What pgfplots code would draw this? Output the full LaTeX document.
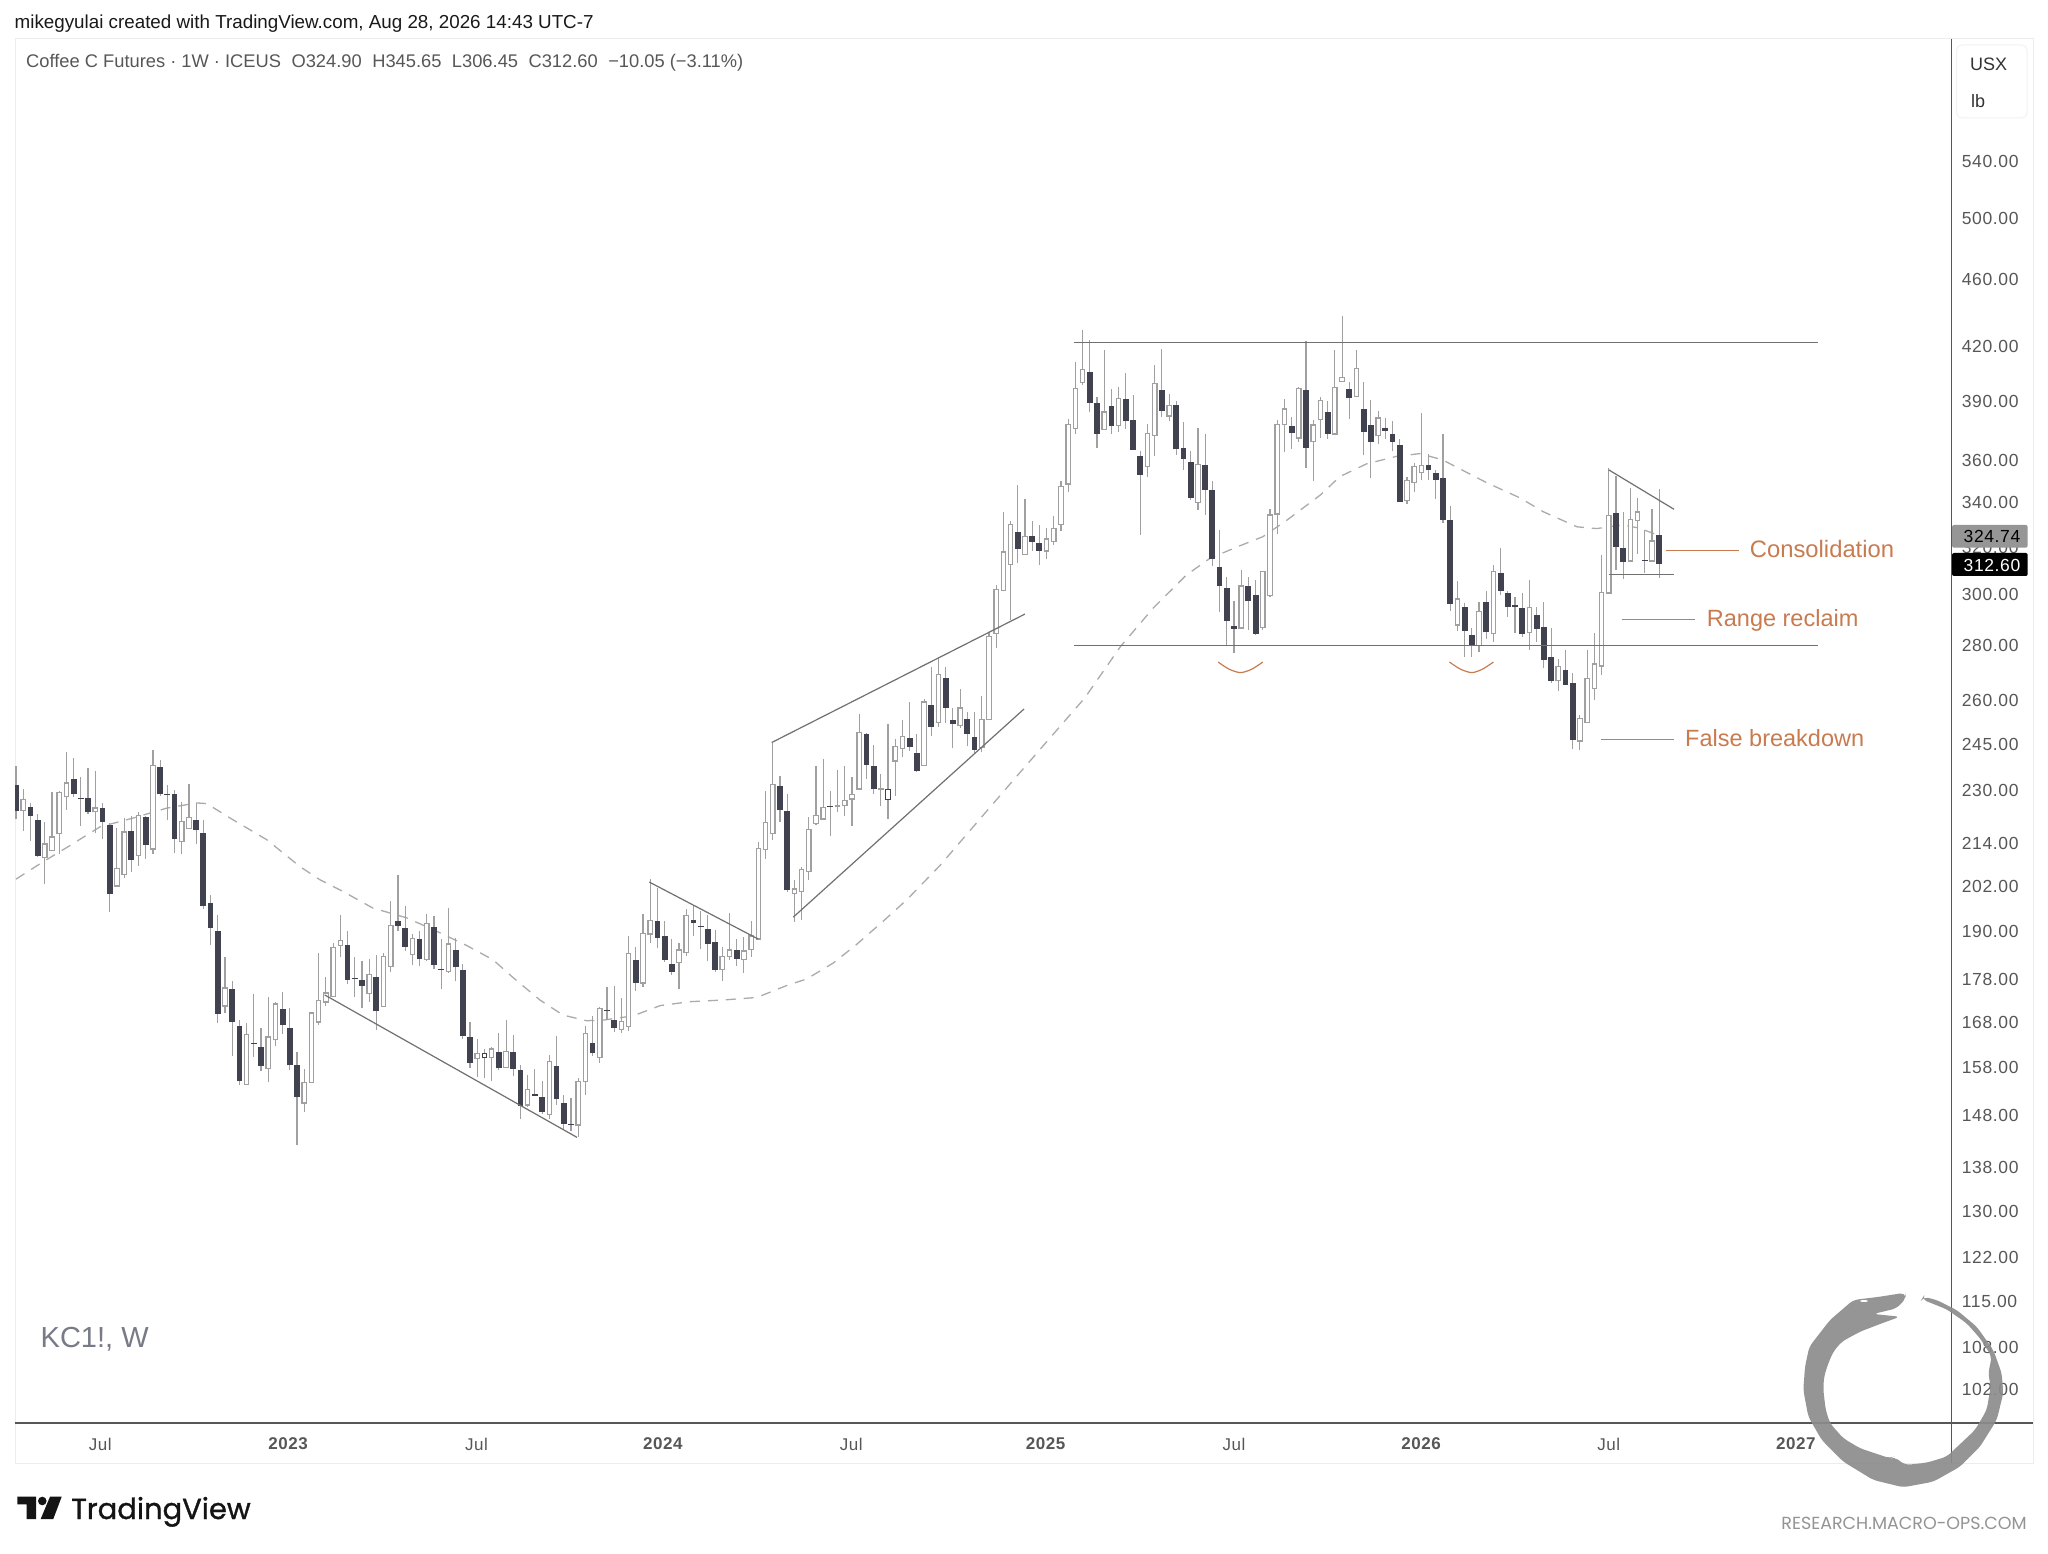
\documentclass[border=0pt]{standalone}
\usepackage{pgfplots}
\usepackage{pgfplotstable}
\usepackage{fontspec}
\pgfplotsset{compat=1.18}
\setmainfont{Liberation Sans}
\newfontfamily\pop{Poppins}
\newfontfamily\popb[FakeBold=1]{Poppins}
\newfontfamily\tkf[LetterSpace=3.5]{Liberation Sans}
\definecolor{wick}{HTML}{A0A0A0}
\definecolor{dk}{HTML}{40424F}
\definecolor{trend}{HTML}{707070}
\definecolor{ma}{HTML}{ABABAB}
\definecolor{orng}{HTML}{C97B50}
\definecolor{tick}{HTML}{575757}
\definecolor{wm}{HTML}{787B86}
\pgfplotstableread{
x o h l c
0 231.6 237.6 221.0 223.5
2 224.8 225.9 214.4 221.8
3 220.8 222.5 210.0 210.2
8 233.3 240.0 227.7 228.6
9 227.3 234.0 219.0 227.0
10 227.4 236.8 222.4 223.0
12 224.4 225.9 215.1 220.1
13 219.1 219.8 194.8 199.6
16 217.4 221.8 205.7 209.2
18 221.6 221.8 209.4 213.3
20 237.1 239.5 228.1 228.6
21 228.6 231.5 220.6 228.4
22 228.7 230.0 211.2 215.0
25 220.7 225.9 213.8 217.8
26 216.9 220.6 195.7 196.4
27 197.3 199.5 186.2 190.7
28 190.0 194.1 167.7 169.7
30 175.5 177.5 160.3 167.9
31 166.9 168.3 154.0 154.9
33 163.1 174.3 160.1 162.9
34 162.2 166.5 157.0 158.0
37 170.9 174.8 165.1 167.1
38 166.4 171.0 157.2 158.2
39 158.3 161.2 142.0 151.5
46 186.3 189.8 176.7 177.7
47 178.2 183.3 173.7 178.0
48 177.6 182.2 171.0 176.3
50 178.4 183.8 166.0 170.3
53 192.5 204.8 190.0 191.2
54 190.6 196.4 184.8 185.8
56 187.9 189.8 181.0 182.7
58 191.0 193.7 180.3 181.4
59 180.3 187.8 175.5 180.1
61 185.1 188.0 177.3 180.7
62 180.1 181.6 164.1 164.7
63 164.4 167.9 157.6 158.8
67 161.1 165.4 157.3 157.6
69 161.1 164.9 156.0 157.5
70 157.3 158.3 147.1 149.7
72 152.3 157.4 151.7 151.8
73 151.6 154.9 148.1 148.5
75 158.1 164.6 150.0 151.1
76 150.3 152.0 145.2 146.1
77 146.1 151.3 144.7 145.9
80 163.2 169.1 160.3 160.8
82 170.5 176.1 168.3 170.3
83 168.3 176.3 165.6 166.5
86 182.6 185.7 175.1 176.9
89 192.6 201.4 185.6 188.2
90 188.5 192.5 182.1 182.6
91 181.6 187.9 178.9 179.7
94 192.7 196.8 188.6 191.9
95 191.3 195.1 185.4 190.8
96 190.4 194.0 182.2 186.5
97 187.0 190.2 179.6 180.1
100 185.0 187.8 181.1 182.8
106 231.2 234.4 220.2 223.6
107 223.3 228.7 200.2 200.6
113 225.0 229.5 216.0 224.5
118 248.1 248.3 233.4 237.9
119 237.6 244.3 228.5 230.1
124 246.7 259.0 242.5 243.8
125 241.8 248.2 235.5 235.8
127 257.9 271.6 247.5 250.4
129 267.7 271.6 251.8 257.1
130 252.8 256.8 243.3 251.6
132 253.2 255.7 243.9 248.2
133 247.0 255.6 241.4 242.8
139 326.4 347.8 312.7 318.8
141 324.6 331.2 318.0 322.0
142 321.6 329.5 312.0 318.1
149 405.6 423.4 383.8 388.8
150 388.9 391.9 365.9 372.9
152 387.1 396.2 372.9 376.6
154 391.0 404.9 375.3 379.1
155 379.6 393.1 364.8 364.8
156 361.9 364.0 325.0 352.7
159 395.6 418.0 381.4 384.8
161 387.6 389.6 362.4 365.0
162 365.8 378.9 355.0 360.2
163 358.7 364.4 340.8 341.6
165 357.2 372.5 334.0 345.5
166 345.3 349.4 311.7 314.5
167 311.2 327.2 292.9 303.1
168 302.3 306.8 279.5 289.2
169 287.3 297.2 277.0 286.1
171 303.1 306.8 285.7 297.1
172 299.5 305.7 283.6 284.0
177 376.8 381.4 365.3 373.1
179 395.8 423.0 356.0 365.8
182 384.1 389.6 370.3 372.9
185 396.3 400.0 380.3 391.2
187 385.6 400.0 362.2 373.5
188 377.3 390.1 351.3 368.9
190 375.7 380.9 370.3 374.4
191 372.9 379.5 364.4 368.9
192 367.3 370.1 340.0 340.0
196 357.2 362.9 350.2 354.7
197 353.4 355.0 341.3 350.2
198 351.1 372.5 330.5 331.7
199 331.6 337.8 293.2 296.0
201 294.6 296.4 275.5 285.3
202 283.7 286.4 275.2 280.0
204 296.6 301.2 282.2 284.7
206 308.6 319.1 299.5 301.3
207 300.3 301.2 290.9 294.7
208 295.4 298.6 284.3 294.6
209 294.3 300.3 283.0 283.9
211 291.7 294.6 281.2 286.0
212 286.9 296.6 271.2 274.4
213 275.3 286.4 265.8 266.6
215 270.5 278.0 265.2 265.2
216 265.7 269.4 243.0 246.2
222 335.0 352.0 309.9 319.5
223 319.4 335.1 306.2 313.3
226 314.1 327.2 308.8 313.7
228 324.90 345.65 306.45 312.60
}\dn
\pgfplotstableread{
x o h l c
1 223.6 230.3 217.5 226.8
4 209.8 220.2 202.3 213.6
5 211.8 229.3 211.6 215.6
6 216.7 229.5 210.8 229.0
7 228.0 241.9 223.8 232.0
11 223.3 236.0 216.8 224.3
14 201.9 218.4 201.9 206.5
15 205.1 221.3 204.1 217.1
17 210.4 223.2 207.5 222.0
19 212.3 242.8 210.8 237.7
23 214.4 226.2 210.8 220.1
24 218.2 231.8 218.2 221.3
29 171.6 183.4 170.0 175.7
32 154.2 167.7 154.2 165.0
35 157.6 173.5 154.6 164.4
36 163.9 172.5 162.5 171.9
40 150.4 157.4 148.6 154.6
41 154.7 170.0 154.7 169.8
42 167.9 184.3 167.1 172.7
43 172.5 178.5 171.4 174.5
44 173.8 186.8 173.8 185.6
45 186.3 194.1 183.4 187.4
49 174.5 182.8 172.5 179.0
51 171.5 184.4 171.5 183.4
52 181.1 197.9 179.7 191.2
55 184.0 189.1 181.2 187.8
57 182.8 194.3 182.2 191.8
60 179.8 195.9 179.4 186.5
64 159.8 163.9 155.8 160.7
65 160.0 161.7 155.5 160.7
66 160.0 162.2 154.9 161.7
68 157.8 168.3 157.8 161.2
71 150.0 156.2 149.6 153.0
74 148.0 160.5 147.2 159.0
78 146.0 155.5 143.6 154.7
79 154.8 166.8 152.0 165.1
81 160.0 171.2 158.7 170.8
84 166.2 173.3 165.3 167.9
85 166.9 188.5 165.8 184.1
87 177.0 194.4 176.1 189.2
88 189.2 203.7 186.9 192.5
92 182.0 186.9 175.5 185.0
93 184.4 195.6 183.6 193.8
98 180.3 185.7 177.5 183.3
99 183.5 194.7 182.6 185.0
101 182.8 188.3 179.4 184.7
102 185.2 192.5 183.4 188.5
103 187.9 214.1 187.9 212.3
104 212.2 229.7 209.4 220.0
105 216.8 245.2 214.7 231.5
108 199.9 203.5 192.2 200.9
109 200.3 207.0 192.8 206.3
110 205.8 221.6 203.5 217.9
111 219.7 237.6 219.2 222.1
112 221.1 239.7 220.9 224.5
114 224.8 236.1 223.0 225.0
115 225.2 237.4 222.0 226.5
116 227.2 234.0 219.0 228.5
117 230.3 254.9 229.8 248.4
120 230.2 235.0 225.1 230.3
121 227.0 251.5 221.0 230.0
122 239.2 246.3 228.1 243.7
123 243.3 252.9 240.5 247.0
126 237.8 260.0 237.8 259.0
128 252.1 274.9 250.4 268.7
131 250.9 263.6 250.0 256.9
134 243.7 261.2 241.9 252.9
135 253.1 285.0 253.1 282.9
136 284.4 303.6 278.7 301.6
137 301.6 335.1 301.6 317.4
138 312.4 331.0 289.6 329.6
140 316.5 341.1 316.5 324.3
143 318.1 328.0 314.4 323.1
144 322.3 333.5 320.6 327.6
145 329.9 349.4 326.8 346.9
146 348.4 380.3 344.7 377.3
147 375.7 411.0 372.9 396.2
148 399.8 429.2 398.5 406.5
151 375.3 417.7 375.3 383.8
153 377.3 397.2 373.5 390.9
157 356.8 377.8 351.8 372.7
158 372.2 409.5 361.9 398.9
160 382.1 393.7 379.1 387.4
164 339.8 375.7 336.2 357.4
170 286.5 309.9 286.5 303.1
173 286.8 309.6 285.7 309.0
174 299.5 336.5 298.9 333.8
175 334.5 380.0 325.4 377.6
176 377.8 391.0 363.5 385.4
178 370.8 397.5 368.6 396.2
180 369.0 379.6 349.4 377.1
181 380.3 391.7 370.8 389.8
183 372.9 417.7 372.9 396.7
184 400.5 437.5 400.0 402.1
186 392.4 417.4 392.4 407.0
189 372.0 384.7 367.8 380.7
193 340.5 351.8 338.9 349.6
194 349.1 358.5 344.7 356.6
195 354.0 383.6 350.2 357.0
200 287.7 305.3 285.3 297.8
203 279.9 296.8 277.4 292.7
205 284.3 311.9 281.2 309.2
210 284.7 305.7 278.0 294.4
214 266.7 274.6 262.8 271.8
217 245.8 254.5 242.6 253.1
218 252.0 278.0 252.0 267.4
219 263.9 284.4 259.8 272.7
220 272.1 316.3 268.6 300.6
221 300.5 355.8 300.5 333.6
224 313.8 346.2 313.8 331.6
225 331.6 341.6 316.6 335.1
227 313.8 336.7 313.8 322.2
}\up
\pgfplotstableread{
x o h l c
65 160.0 161.7 155.5 160.7
121 227.0 251.5 221.0 230.0
}\upd
\pgfplotsset{cbar/.style 2 args={draw=none,mark=none,forget plot,error bars/.cd,y dir=plus,y explicit,error mark=none,error bar style={solid,draw=#1,line width=#2}}}
\begin{document}
\begin{tikzpicture}[x=1pt,y=1pt]
\path[use as bounding box,fill=white] (0,0) rectangle (2048,1553);
\draw[color=black!7,line width=1pt] (15,1514) rectangle (2033,89);
\begin{axis}[
  at={(15pt,130pt)},anchor=south west,scale only axis,
  width=1936.7pt,height=1383pt,
  xmin=-0.139,xmax=268.59,ymin=97.4,ymax=636.1,ymode=log,
  axis line style={draw=none},major tick length=0pt,minor tick length=0pt,
  xtick={11.7,37.8,63.9,89.8,115.9,142.9,169,195,221,247},
  xticklabels={Jul,\textbf{2023},Jul,\textbf{2024},Jul,\textbf{2025},Jul,\textbf{2026},Jul,\textbf{2027}},
  xticklabel style={font=\fontsize{17}{18}\selectfont\tkf,text=tick,anchor=center,yshift=-21pt,inner sep=0pt},
  ytick={540,500,460,420,390,360,340,320,300,280,260,245,230,214,202,190,178,168,158,148,138,130,122,115,108,102},
  yticklabels={540.00,500.00,460.00,420.00,390.00,360.00,340.00,320.00,300.00,280.00,260.00,245.00,230.00,214.00,202.00,190.00,178.00,168.00,158.00,148.00,138.00,130.00,122.00,115.00,108.00,102.00},
  log ticks with fixed point,
  yticklabel pos=right,
  yticklabel style={font=\fontsize{17.5}{18}\selectfont\tkf,text=tick,anchor=west,inner sep=0pt,xshift=10pt,yshift=-1pt},
  clip=true,
]
% moving average
\addplot[ma,line width=1.3pt,dash pattern=on 10pt off 8pt,forget plot] coordinates {
(0,203.7)(3.79,208.6)(7.49,213.2)(11.66,218.7)(16.23,221.3)(20.9,224.3)(25.07,225.9)(26.46,225.7)(30.1,220.8)(34.8,214.9)(39.4,207.2)(42.2,203.5)(45.4,200.3)(49.5,195.9)(54.2,193.3)(58.4,189.8)(62.5,186.2)(66.2,182.6)(69.0,178.2)(72.7,172.9)(75.9,169.4)(79.2,168.1)(81.7,168.3)(83.8,168.8)(85.6,169.2)(89.4,171.6)(93.5,172.5)(98.1,172.9)(102.8,173.5)(106.9,176.3)(109.7,177.9)(113.4,181.8)(116.6,186.4)(120.3,192.4)(123.6,198.1)(128.2,207.5)(138.2,232.5)(148.3,260.5)(153.2,279.1)(157.8,294.3)(162.4,307.8)(165.7,314.9)(169.8,320.2)(173.0,324.2)(176.4,331.7)(181,343.1)(183.7,351.8)(187.4,357.9)(191.6,361.6)(194.8,362.9)(197.9,359.9)(204.1,348.8)(208.7,341.7)(211.9,335.4)(216.6,328.6)(219.3,327.8)(222.9,329.4)(225.1,328.1)(228,324.74)};
% wicks
\addplot[cbar={wick}{1.15pt}] table[x=x,y=l,y error plus expr=\thisrow{h}-\thisrow{l}] {\dn};
\addplot[cbar={wick}{1.15pt}] table[x=x,y=l,y error plus expr=\thisrow{h}-\thisrow{l}] {\up};
% down bodies
\addplot[cbar={dk}{5.8pt}] table[x=x,y=c,y error plus expr=\thisrow{o}-\thisrow{c}] {\dn};
% up bodies: outline, then white inside
\addplot[cbar={wick}{5.6pt}] table[x=x,y expr=\thisrow{o}/1.0012,y error plus expr=\thisrow{c}*1.0012-\thisrow{o}/1.0012] {\up};
\addplot[cbar={dk}{5.6pt}] table[x=x,y expr=\thisrow{o}/1.0012,y error plus expr=\thisrow{c}*1.0012-\thisrow{o}/1.0012] {\upd};
\addplot[cbar={white}{3.2pt}] table[x=x,y expr=\thisrow{o}*1.0005,y error plus expr={max(\thisrow{c}/1.0005-\thisrow{o}*1.0005,0)}] {\up};
% trend lines
\addplot[trend,line width=1.3pt,forget plot] coordinates {(146.8,421.9)(250.0,421.9)};
\addplot[trend,line width=1.3pt,forget plot] coordinates {(146.8,279.6)(250.0,279.6)};
\addplot[trend,line width=1.2pt,forget plot] coordinates {(42.83,174.1)(77.84,143.5)};
\addplot[trend,line width=1.2pt,forget plot] coordinates {(87.87,202.9)(103.0,187.8)};
\addplot[trend,line width=1.2pt,forget plot] coordinates {(104.86,245.2)(140.0,291.9)};
\addplot[trend,line width=1.2pt,forget plot] coordinates {(107.85,193.5)(139.87,256.6)};
\addplot[trend,line width=1.2pt,forget plot] coordinates {(221.0,355.0)(230.05,336.5)};
\addplot[trend,line width=1.2pt,forget plot] coordinates {(221.0,307.9)(230.05,307.9)};
% orange annotation marks
\addplot[orng,line width=1.2pt,forget plot] coordinates {(228.9,318.3)(239.03,318.3)};
\addplot[orng,line width=1.2pt,forget plot] coordinates {(222.8,289.7)(233.0,289.7)};
\addplot[orng,line width=1.2pt,forget plot] coordinates {(219.9,246.3)(230.05,246.3)};
\addplot[orng,line width=1.2pt,smooth,forget plot] coordinates {(166.8,273.5)(168.3,270.9)(169.9,269.6)(171.5,270.9)(173.0,273.5)};
\addplot[orng,line width=1.2pt,smooth,forget plot] coordinates {(198.9,273.5)(200.4,270.9)(202.0,269.6)(203.5,270.9)(205.0,273.5)};
\end{axis}
% frame lines
\draw[color=tick,line width=1.3pt] (1951.7,1514) -- (1951.7,90);
\draw[color=tick,line width=1.3pt] (15,130) -- (2033,130);
% last price labels
\fill[color=black!41,rounded corners=2pt] (1952,1028) rectangle (2027.7,1005.3);
\node[anchor=center,inner sep=0pt,font=\fontsize{17.5}{18}\selectfont\tkf,text=black] at (1992,1016.2) {324.74};
\fill[color=black,rounded corners=2pt] (1952,1000) rectangle (2027.7,977);
\node[anchor=center,inner sep=0pt,font=\fontsize{17.5}{18}\selectfont\tkf,text=white] at (1992,988) {312.60};
% currency box
\draw[color=black!5,line width=1pt,rounded corners=5pt] (1956.7,1508) rectangle (2027,1435);
\node[anchor=west,inner sep=0pt,font=\fontsize{18}{18}\selectfont,text=black!80] at (1970,1489) {USX};
\node[anchor=west,inner sep=0pt,font=\fontsize{18}{18}\selectfont,text=black!80] at (1971,1451.5) {lb};
% header
\node[anchor=west,inner sep=0pt,font=\fontsize{18.8}{20}\selectfont,text=black!90] at (14.5,1529) {mikegyulai created with TradingView.com, Aug 28, 2026 14:43 UTC-7};
\node[anchor=west,inner sep=0pt,font=\fontsize{18.3}{20}\selectfont,text=tick] at (26,1490) {Coffee C Futures · 1W · ICEUS\hspace{10.5pt}O324.90\hspace{10.5pt}H345.65\hspace{10.5pt}L306.45\hspace{10.5pt}C312.60\hspace{10.5pt}−10.05 (−3.11\%)};
% annotation texts
\node[anchor=west,inner sep=0pt,font=\fontsize{23.8}{26}\selectfont,text=orng] at (1749.7,1004) {Consolidation};
\node[anchor=west,inner sep=0pt,font=\fontsize{23.5}{26}\selectfont,text=orng] at (1706.7,933) {Range reclaim};
\node[anchor=west,inner sep=0pt,font=\fontsize{23.5}{26}\selectfont,text=orng] at (1685,815) {False breakdown};
\node[anchor=west,inner sep=0pt,font=\fontsize{29}{32}\selectfont,text=wm] at (40.5,214) {KC1!, W};
% TradingView logo
\fill[color=black!92] (17.3,56.3) -- (36,56.3) -- (36,34) -- (26.7,34) -- (26.7,48.7) -- (17.3,48.7) -- cycle;
\fill[color=black!92] (42.3,52) circle (4.3);
\fill[color=black!92] (50,56.3) -- (61.7,56.3) -- (53.3,34) -- (40.7,34) -- cycle;
\node[anchor=base west,inner sep=0pt,font=\popb\fontsize{29}{32}\selectfont,text=black!92] at (71,34) {TradingView};
% macro-ops mark
\fill[color=black!45,opacity=0.92,rounded corners=5pt] (1905,260.3) -- (1906,254.7) -- (1896.7,244.7) -- (1873.3,239) -- (1900,236.3) -- (1880,229) -- (1860,221.3) -- (1841.7,211.3) -- (1833.3,201.3) -- (1828.3,189.7) -- (1824,176.3) -- (1823.3,163) -- (1825.7,143) -- (1830,129.7) -- (1843.3,114.7) -- (1860,104.7) -- (1890,94.7) -- (1894.3,96.3) -- (1905,88) -- (1926.7,90.3) -- (1946.7,96.3) -- (1975,123) -- (1986.7,143) -- (1990.7,166.3) -- (1988.3,179.7) -- (1991.7,196.3) -- (1980,214.7) -- (1966.7,229.7) -- (1946.7,243.7) -- (1921.7,253.7) -- (1923.3,256.3) -- (1936.7,253) -- (1956.7,243) -- (1976.7,226.3) -- (1993.3,203) -- (2001.7,179.7) -- (2003.3,159.7) -- (1996.7,133) -- (1980,106.3) -- (1960,86.3) -- (1933.3,71.3) -- (1903.3,65.7) -- (1873.3,73) -- (1843.3,91.3) -- (1821.7,113) -- (1808.3,136.3) -- (1803.3,163) -- (1805,186.3) -- (1809.3,206.3) -- (1830,233) -- (1853.3,253) -- (1880,256.3) -- cycle;
\fill[white] (1864,252) ellipse (4 and 1);
\node[anchor=center,inner sep=0pt,font=\pop\fontsize{17.5}{18}\selectfont,text=black!42] at (1904,30) {RESEARCH.MACRO-OPS.COM};
\end{tikzpicture}
\end{document}
